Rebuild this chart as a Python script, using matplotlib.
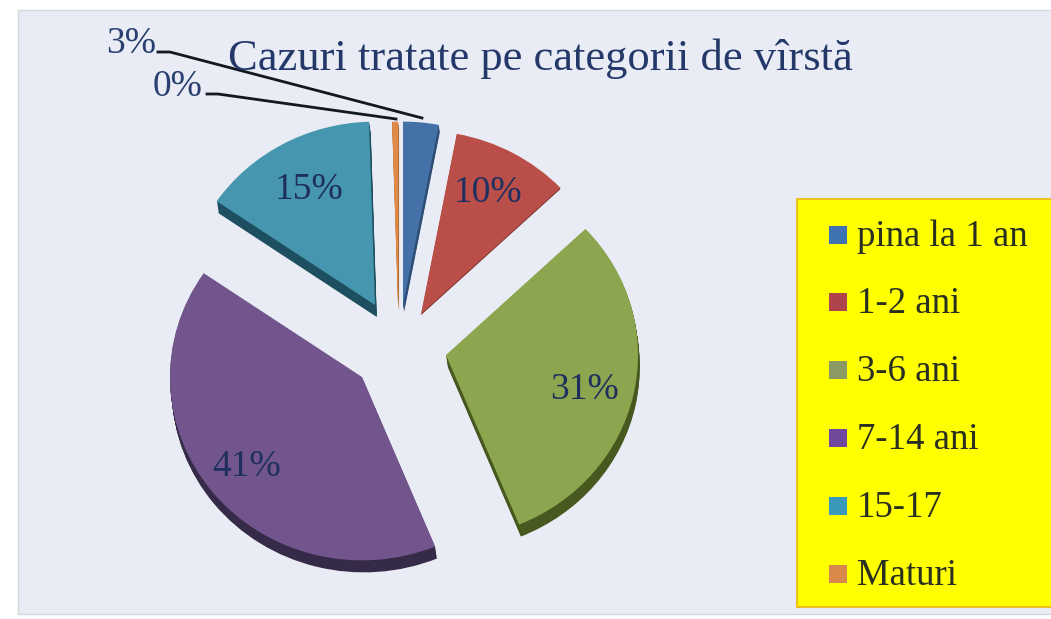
import matplotlib
matplotlib.use("Agg")
import matplotlib.pyplot as plt
from matplotlib.patches import Wedge, Rectangle
from matplotlib.transforms import Affine2D

categories = ["pina la 1 an", "1-2 ani", "3-6 ani", "7-14 ani", "15-17", "Maturi"]
values = [3, 10, 31, 41, 15, 0.5]
percent_labels = ["3%", "10%", "31%", "41%", "15%", "0%"]
colors = ["#4472a8", "#b94f48", "#8ca64f", "#72558c", "#4596ae", "#e08a4a"]
shadow_colors = ["#2c4d75", "#772c2a", "#47591f", "#352a48", "#1d4f60", "#b66d31"]
legend_colors = ["#3f72b0", "#b0444c", "#8a9a62", "#70489c", "#3a98b8", "#d8884a"]

plt.rcParams["font.family"] = ["Liberation Serif", "DejaVu Serif"]

W, H = 1051, 619
fig = plt.figure(figsize=(W / 100, H / 100), dpi=100, facecolor="white")
ax = fig.add_axes([0, 0, 1, 1])
ax.set_xlim(0, W)
ax.set_ylim(H, 0)
ax.axis("off")

ax.add_patch(Rectangle((18, 10), 1040, 604, fc="#e9ecf4", ec="#d5d8de", lw=1))

# exploded slices, clockwise from 12 o'clock, flattened a bit like the 3d pie
cx, cy = 400, 345
radius = 192
squash = 0.955
explode_x = [3, 21, 46, -38, -25, -2]
explode_y = [-40, -31, 10, 32, -40, -40]
depth = [7, 1, 12, 12, 12, 7]
total = sum(values)
start = -90.0
pct_pos = [None, (488, 193), (584, 390), (247, 467), (309, 190), None]


def draw_wedge(ox, oy, a1, a2, color, z):
    w = Wedge((0, 0), radius, a1, a2, fc=color, ec="none", zorder=z)
    w.set_transform(Affine2D().scale(1, squash).translate(ox, oy) + ax.transData)
    ax.add_patch(w)


for i, v in enumerate(values):
    sweep = 360 * v / total
    ox = cx + explode_x[i]
    oy = cy + explode_y[i]
    for d in range(depth[i], 0, -1):
        draw_wedge(ox + d * 0.15, oy + d, start, start + sweep, shadow_colors[i], 2)
    draw_wedge(ox, oy, start, start + sweep, colors[i], 3)
    start += sweep

for txt, pos in zip(percent_labels, pct_pos):
    if pos:
        ax.text(pos[0], pos[1], txt, fontsize=27, color="#1f3060", ha="center", va="center", zorder=5)

# leader lines for the two small slices
ax.plot([158, 170, 422], [52, 52, 118], color="#101820", lw=2, zorder=5)
ax.plot([207, 218, 396], [94, 94, 119], color="#101820", lw=2, zorder=5)
ax.text(131, 44, percent_labels[0], fontsize=27, color="#2a3f70", ha="center", va="center")
ax.text(178, 87, percent_labels[5], fontsize=27, color="#2a3f70", ha="center", va="center")

ax.text(540, 59, "Cazuri tratate pe categorii de vîrstă", fontsize=32, color="#24386a",
        ha="center", va="center", zorder=6)

# legend box
ax.add_patch(Rectangle((797, 199), 260, 408, fc="#ffff00", ec="#ecc020", lw=1.5, zorder=4))
leg_y = [235, 302, 370, 438, 506, 574]
for name, c, y in zip(categories, legend_colors, leg_y):
    ax.add_patch(Rectangle((829, y - 9), 18, 18, fc=c, ec="none", zorder=5))
    ax.text(857, y + 1.5, name, fontsize=26.5, color="#2a3020", ha="left", va="center", zorder=5)

fig.savefig("out.png", dpi=100)
